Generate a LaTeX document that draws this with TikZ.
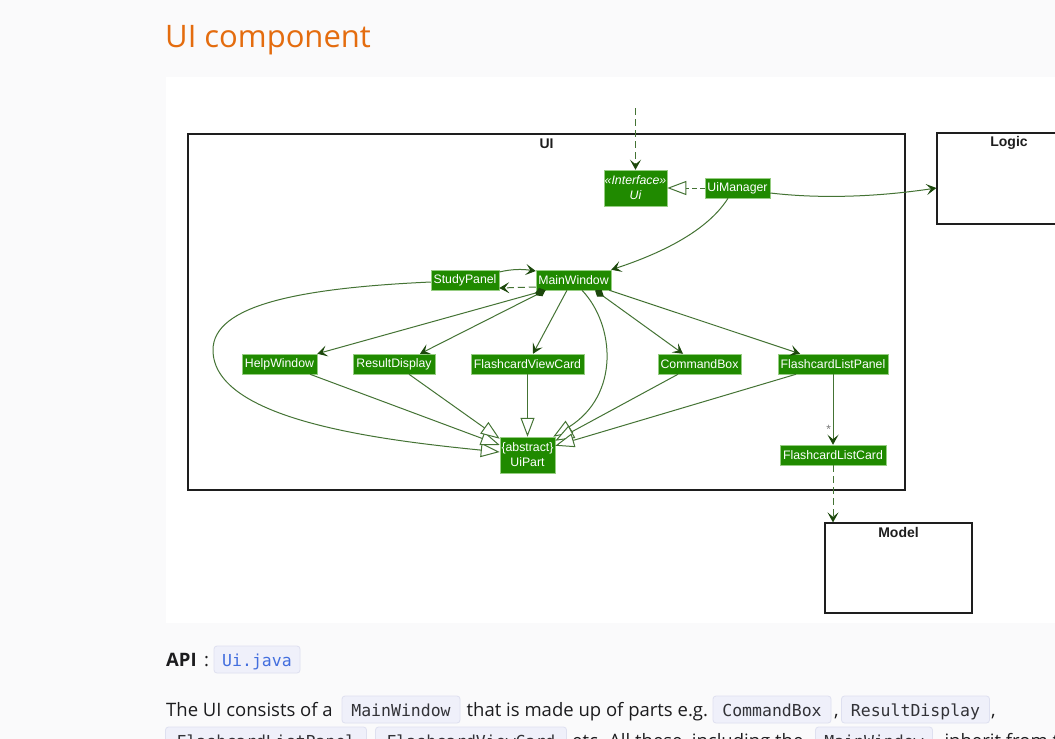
\documentclass[tikz,border=0pt]{standalone}
\usepackage{fontspec}
\usetikzlibrary{arrows.meta}
\newfontfamily\uifont{Liberation Sans}
\newfontfamily\pagefont{Open Sans}
\newfontfamily\codefont{DejaVu Sans Mono}
\definecolor{pagebg}{RGB}{250,250,251}
\definecolor{clsfill}{RGB}{32,138,0}
\definecolor{clsborder}{RGB}{150,205,130}
\definecolor{edgecol}{RGB}{68,115,52}
\definecolor{tipcol}{RGB}{28,72,12}
\definecolor{headcol}{RGB}{228,108,14}
\definecolor{codebg}{RGB}{239,240,250}
\definecolor{codeborder}{RGB}{222,224,240}
\definecolor{linkblue}{RGB}{66,110,222}
\definecolor{bodycol}{RGB}{28,28,30}
\definecolor{codecol}{RGB}{50,50,55}
\definecolor{pkgline}{RGB}{30,30,30}
\definecolor{starcol}{RGB}{120,120,120}
\begin{document}
\begin{tikzpicture}[x=1pt,y=-1pt,
  cls/.style={draw=clsborder, line width=0.5pt, fill=clsfill, text=white,
    font=\uifont\fontsize{12.3}{14.5}\selectfont, inner sep=0pt, minimum height=20pt, align=center},
  pkg/.style={draw=pkgline, line width=1.2pt, fill=white, inner sep=0pt},
  pkgtitle/.style={font=\uifont\bfseries\fontsize{14}{16}\selectfont, text=pkgline, inner sep=0pt},
  conn/.style={draw=edgecol, line width=1pt},
  dsh/.style={dash pattern=on 7pt off 4pt},
  vee/.style={-{Stealth[length=10pt,width=11pt,inset=4.5pt,color=tipcol]}},
  compo/.style={{Diamond[length=11pt,width=8pt,color=tipcol]}-{Stealth[length=10pt,width=11pt,inset=4.5pt,color=tipcol]}},
  inh/.style={-{Triangle[length=19pt,width=14pt,fill=white,color=edgecol]}},
  bodyt/.style={font=\pagefont\fontsize{18.5}{22}\selectfont, text=bodycol, inner sep=0pt, anchor=base west},
  codebox/.style={draw=codeborder, fill=codebg, rounded corners=3pt, line width=0.8pt, inner xsep=0pt, inner ysep=0pt,
    text height=20pt, text depth=7pt, anchor=base, font=\codefont\fontsize{16.5}{18}\selectfont, text=codecol},
  mult/.style={inner sep=0pt, font=\uifont\fontsize{12}{13}\selectfont, text=starcol}
]
\fill[pagebg] (0,0) rectangle (1055,739);
\useasboundingbox (0,0) rectangle (1055,739);
\fill[white] (166,77) rectangle (1055,623);

% heading
\node[anchor=base west, inner sep=0pt, font=\pagefont\fontsize{31}{36}\selectfont, text=headcol] (head) at (165,47) {UI component};

% packages
\node[pkg, minimum width=717pt, minimum height=356pt] (uibox) at (546.5,312) {};
\node[pkgtitle] (uit) at ([yshift=-10pt]uibox.north) {UI};
\node[pkg, minimum width=144pt, minimum height=91pt] (logic) at (1009,178.5) {};
\node[pkgtitle] (logict) at ([yshift=-11pt]logic.north) {Logic};
\node[pkg, minimum width=147pt, minimum height=90pt] (model) at (898.5,568) {};
\node[pkgtitle] (modelt) at ([yshift=-10pt]model.north) {Model};

% classes
\node[cls, minimum width=63pt, minimum height=36pt, font=\uifont\itshape\fontsize{12.3}{15}\selectfont] (ui) at (635.5,188) {«Interface»\\Ui};
\node[cls, minimum width=65pt] (um) at (737.5,188) {UiManager};
\node[cls, minimum width=68pt] (sp) at (465,280) {StudyPanel};
\node[cls, minimum width=75pt] (mw) at (573.5,280) {MainWindow};
\node[cls, minimum width=75pt] (hw) at (279.5,364) {HelpWindow};
\node[cls, minimum width=82pt] (rd) at (394,364) {ResultDisplay};
\node[cls, minimum width=113pt] (fvc) at (527.5,364) {FlashcardViewCard};
\node[cls, minimum width=83pt] (cb) at (699.5,364) {CommandBox};
\node[cls, minimum width=110pt] (flp) at (833,364) {FlashcardListPanel};
\node[cls, minimum width=55pt, minimum height=36pt, font=\uifont\fontsize{12.3}{15}\selectfont] (up) at (527.5,455) {\{abstract\}\\UiPart};
\node[cls, minimum width=106pt] (flc) at (833,455) {FlashcardListCard};

% connectors
\coordinate (uiin) at (635.5,108);
\draw[conn, dsh, vee] (uiin) -- (ui.north);
\draw[conn, dash pattern=on 5pt off 3pt, inh] (um.west) -- (ui.east);
\draw[conn, vee] ([yshift=-5pt]um.east) .. controls (830,200) and (890,195) .. ([yshift=-9.5pt]logic.west);
\draw[conn, vee] ([xshift=-9.5pt]um.south) .. controls (705,235) and (650,257) .. (mw.north east);
\draw[conn, vee] ([yshift=8pt]sp.east) .. controls (512,269) and (522,269) .. ([yshift=9pt]mw.west);
\draw[conn, dsh, vee] ([yshift=-7pt]mw.west) -- ([yshift=-8pt]sp.east);
\draw[conn, inh] ([yshift=-2pt]sp.west) .. controls (300,288) and (213,305) .. (213,350)
   .. controls (213,420) and (380,440) .. ([yshift=3pt]up.west);
\draw[conn, compo] ([xshift=-28pt]mw.south) -- (hw.north east);
\draw[conn, compo] ([xshift=-28pt]mw.south) -- ([xshift=26pt]rd.north);
\draw[conn, vee] ([xshift=-6.5pt]mw.south) -- ([xshift=5.5pt]fvc.north);
\draw[conn, compo] ([xshift=21.5pt]mw.south) -- ([xshift=-16.5pt]cb.north);
\draw[conn, vee] ([xshift=-2pt]mw.south east) -- ([xshift=-33pt]flp.north);
\draw[conn, inh] ([xshift=8.5pt]mw.south) .. controls (615,325) and (620,395) .. ([xshift=-2pt]up.north east);
\draw[conn, inh] ([xshift=30.5pt]hw.south) -- ([yshift=10pt]up.west);
\draw[conn, inh] ([xshift=15pt]rd.south) -- ([yshift=-2pt]up.north west);
\draw[conn, inh] (fvc.south) -- (up.north);
\draw[conn, inh] ([xshift=-21.5pt]cb.south) -- ([yshift=-4pt]up.north east);
\draw[conn, inh] ([xshift=-37pt]flp.south) -- ([yshift=-9pt]up.north east);
\draw[conn, vee] (flp.south) -- node[pos=0.78, left=1.5pt, mult] (star) {*} (flc.north);
\draw[conn, dsh, vee] (flc.south) -- ([xshift=-65.5pt]model.north);

% text below
\node[bodyt, font=\pagefont\bfseries\fontsize{18.5}{22}\selectfont] (api) at (166,666) {API};
\node[bodyt] (colon) at (204,666) {:};
\node[codebox, minimum width=86pt, text=linkblue] (uij) at (257,666) {Ui.java};

\node[bodyt] (t1) at (166,716) {The UI consists of a};
\node[codebox, minimum width=118pt] (c1) at (401,716) {MainWindow};
\node[bodyt] (t2) at (466.5,716) {that is made up of parts e.g.};
\node[codebox, minimum width=118pt] (c2) at (772,716) {CommandBox};
\node[bodyt] (t3) at (834,716) {,};
\node[codebox, minimum width=148pt] (c3) at (915.5,716) {ResultDisplay};
\node[bodyt] (t4) at (991,716) {,};

\node[codebox, minimum width=201pt] (c4) at (266,747) {FlashcardListPanel};
\node[bodyt] (t5) at (369,747) {,};
\node[codebox, minimum width=191pt] (c5) at (471,747) {FlashcardViewCard};
\node[bodyt] (t6) at (572,747) {etc. All these, including the};
\node[codebox, minimum width=117pt] (c6) at (874,747) {MainWindow};
\node[bodyt] (t7) at (935,747) {, inherit from t};
\end{tikzpicture}
\end{document}
